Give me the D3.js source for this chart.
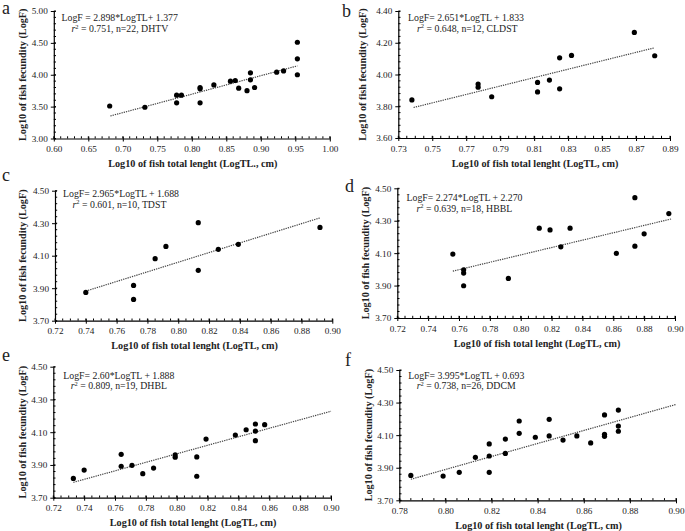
<!DOCTYPE html>
<html><head><meta charset="utf-8">
<script src="https://cdn.jsdelivr.net/npm/d3@7"></script>
<style>
body{margin:0;background:#fff;}
text{font-family:"Liberation Serif","Times New Roman",serif;fill:#222;}
</style></head>
<body>
<svg id="chart" width="685" height="531"></svg>
<script>
// ---------- data ----------
const panelIds = ["a","b","c","d","e","f"];
const aX = [0.681,0.732,0.778,0.778,0.785,0.812,0.812,0.812,0.832,0.856,0.863,0.868,0.880,0.885,0.885,0.891,0.923,0.933,0.953,0.953,0.953];
const aY = [3.51,3.49,3.68,3.56,3.68,3.80,3.78,3.56,3.84,3.90,3.91,3.79,3.75,4.03,3.92,3.80,4.04,4.06,4.51,4.25,4.00];
const bX = [0.738,0.777,0.777,0.785,0.812,0.812,0.819,0.825,0.825,0.832,0.869,0.881];
const bY = [3.84,3.94,3.92,3.86,3.95,3.89,3.965,4.105,3.91,4.12,4.265,4.118];
const cX = [0.740,0.771,0.771,0.785,0.792,0.813,0.813,0.826,0.839,0.892];
const cY = [3.874,3.917,3.831,4.082,4.157,4.303,4.010,4.139,4.170,4.274];
const dX = [0.756,0.763,0.763,0.763,0.792,0.812,0.819,0.826,0.832,0.862,0.874,0.874,0.880,0.896];
const dY = [4.094,3.997,3.977,3.899,3.944,4.254,4.243,4.139,4.254,4.098,4.442,4.143,4.219,4.344];
const eX = [0.733,0.740,0.764,0.764,0.771,0.778,0.785,0.799,0.799,0.813,0.813,0.819,0.838,0.845,0.851,0.851,0.851,0.857];
const eY = [3.818,3.869,3.965,3.892,3.898,3.847,3.881,3.961,3.947,3.949,3.831,4.058,4.083,4.115,4.150,4.107,4.048,4.146];
const fX = [0.785,0.799,0.806,0.813,0.819,0.819,0.819,0.826,0.826,0.832,0.832,0.839,0.845,0.845,0.851,0.857,0.863,0.869,0.869,0.869,0.875,0.875,0.875];
const fY = [3.853,3.849,3.872,3.964,4.046,3.972,3.872,4.076,3.988,4.187,4.111,4.087,4.197,4.095,4.070,4.095,4.052,4.224,4.105,4.093,4.254,4.156,4.124];
const slopes = [2.898,2.651,2.965,2.274,2.60,3.995];
const intercepts = [1.377,1.833,1.688,2.270,1.888,0.693];
const trendFrom = [0.682,0.739,0.740,0.756,0.733,0.785];
const trendTo = [0.953,0.881,0.892,0.898,0.900,0.900];
const eqLabels = ["LogF = 2.898*LogTL+ 1.377","LogF= 2.651*LogTL + 1.833","LogF= 2.965*LogTL + 1.688","LogF= 2.274*LogTL + 2.270","LogF= 2.60*LogTL + 1.888","LogF= 3.995*LogTL + 0.693"];
const statLabels = [" = 0.751, n=22, DHTV"," = 0.648, n=12, CLDST"," = 0.601, n=10, TDST"," = 0.639, n=18, HBBL"," = 0.809, n=19, DHBL"," = 0.738, n=26, DDCM"];
const xTickLabels = [
  ["0.60","0.65","0.70","0.75","0.80","0.85","0.90","0.95","1.00"],
  ["0.73","0.75","0.77","0.79","0.81","0.83","0.85","0.87","0.89"],
  ["0.72","0.74","0.76","0.78","0.80","0.82","0.84","0.86","0.88","0.90"],
  ["0.72","0.74","0.76","0.78","0.80","0.82","0.84","0.86","0.88","0.90"],
  ["0.72","0.74","0.76","0.78","0.80","0.82","0.84","0.86","0.88","0.90"],
  ["0.78","0.80","0.82","0.84","0.86","0.88","0.90"]
];
const yTickLabels = [
  ["3.00","3.50","4.00","4.50","5.00"],
  ["3.60","3.80","4.00","4.20","4.40"],
  ["3.70","3.90","4.10","4.30","4.50"],
  ["3.70","3.90","4.10","4.30","4.50"],
  ["3.70","3.90","4.10","4.30","4.50"],
  ["3.70","3.90","4.10","4.30","4.50"]
];
const xTitles = ["Log10 of fish total lenght (LogTL., cm)","Log10 of fish total lenght (LogTL, cm)","Log10 of fish total lenght (LogTL, cm)","Log10 of fish total lenght (LogTL, cm)","Log10 of fish total lenght (LogTL, cm)","Log10 of fish total lenght (LogTL, cm)"];
const yTitle = "Log10 of fish fecundity (LogF)";
const xsAll = [aX,bX,cX,dX,eX,fX];
const ysAll = [aY,bY,cY,dY,eY,fY];

// ---------- layout (pixels) ----------
const layout = [
  {l:53.8,r:329.8,t:11,b:138.5, lx:2, ly:14, ytx:22.7, xminor:5, yminor:5, eq:[61.5,21], st:[71.5,32]},
  {l:398.3,r:670,t:11,b:138, lx:342, ly:17, ytx:362.7, xminor:4, yminor:5, eq:[408,20.5], st:[417,31.5]},
  {l:55,r:332.3,t:190.7,b:320.7, lx:2, ly:181, ytx:22.7, xminor:4, yminor:5, eq:[63,197], st:[72.5,207.5]},
  {l:397.3,r:675,t:188.3,b:318, lx:345, ly:192, ytx:365, xminor:4, yminor:5, eq:[406.5,200.5], st:[416.5,211.5]},
  {l:53.3,r:331,t:366.7,b:497.7, lx:2, ly:361, ytx:22.7, xminor:4, yminor:5, eq:[63.3,378.5], st:[70.7,389]},
  {l:399.3,r:676,t:370,b:500.3, lx:345, ly:366, ytx:368.3, xminor:4, yminor:5, eq:[408.3,378.5], st:[416.7,389]}
];

const svg = d3.select("#chart");

layout.forEach((L, i) => {
  const xt = xTickLabels[i].map(Number), yt = yTickLabels[i].map(Number);
  const x = d3.scaleLinear().domain([xt[0], xt[xt.length-1]]).range([L.l, L.r]);
  const y = d3.scaleLinear().domain([yt[0], yt[yt.length-1]]).range([L.b, L.t]);
  const g = svg.append("g");

  const xStep = (xt[1]-xt[0])/L.xminor, yStep = (yt[1]-yt[0])/L.yminor;
  const xMinor = d3.range(0, (xt.length-1)*L.xminor+1).map(k => xt[0] + k*xStep);
  const yMinor = d3.range(0, (yt.length-1)*L.yminor+1).map(k => yt[0] + k*yStep);

  const xAxis = d3.axisBottom(x).tickValues(xt).tickFormat((d,j)=>xTickLabels[i][j]).tickSizeInner(3).tickSizeOuter(0).tickPadding(4);
  const yAxis = d3.axisLeft(y).tickValues(yt).tickFormat((d,j)=>yTickLabels[i][j]).tickSizeInner(3).tickSizeOuter(0).tickPadding(3);

  const gx = g.append("g").attr("transform", `translate(0,${L.b})`).call(xAxis);
  const gy = g.append("g").attr("transform", `translate(${L.l},0)`).call(yAxis);
  [gx, gy].forEach(a => {
    a.select(".domain").attr("stroke","#000").attr("stroke-width",1.2);
    a.selectAll(".tick line").attr("stroke","#000").attr("stroke-width",1);
    a.selectAll(".tick text").style("font-size","9.2px").attr("fill","#222").style("font-family","Liberation Serif, serif");
  });
  gx.selectAll(".tick line").attr("y1",-2);
  gy.selectAll(".tick line").attr("x1",2);
  g.append("g").selectAll("line").data(xMinor).join("line")
    .attr("x1", d=>x(d)).attr("x2", d=>x(d)).attr("y1", L.b).attr("y2", L.b-2.2)
    .attr("stroke","#000").attr("stroke-width",1);
  g.append("g").selectAll("line").data(yMinor).join("line")
    .attr("x1", L.l).attr("x2", L.l+2.2).attr("y1", d=>y(d)).attr("y2", d=>y(d))
    .attr("stroke","#000").attr("stroke-width",1);

  g.append("line")
    .attr("x1", x(trendFrom[i])).attr("y1", y(slopes[i]*trendFrom[i]+intercepts[i]))
    .attr("x2", x(trendTo[i])).attr("y2", y(slopes[i]*trendTo[i]+intercepts[i]))
    .attr("stroke","#444").attr("stroke-width",1.2).attr("stroke-dasharray","1.3,1");

  g.append("g").selectAll("circle").data(xsAll[i].map((v,j)=>[v, ysAll[i][j]])).join("circle")
    .attr("cx", d=>x(d[0])).attr("cy", d=>y(d[1])).attr("r", 2.6).attr("fill","#000");

  g.append("text").attr("x", L.eq[0]).attr("y", L.eq[1]).style("font-size","9.8px").text(eqLabels[i]);
  const st = g.append("text").attr("x", L.st[0]).attr("y", L.st[1]).style("font-size","9.8px");
  st.append("tspan").style("font-style","italic").text("r");
  st.append("tspan").attr("dy",-3.5).style("font-size","6.5px").text("2");
  st.append("tspan").attr("dy",3.5).text(statLabels[i]);

  g.append("text").attr("x", (L.l+L.r)/2 + 1).attr("y", L.b + 28.5)
    .attr("text-anchor","middle").style("font-size","10.2px").style("font-weight","bold").text(xTitles[i]);
  g.append("text").attr("transform", `translate(${L.ytx + 3.5},${(L.t+L.b)/2}) rotate(-90)`)
    .attr("text-anchor","middle").style("font-size","10.2px").style("font-weight","bold").text(yTitle);

  g.append("text").attr("x", L.lx).attr("y", L.ly).style("font-size","18px").attr("fill","#111").text(panelIds[i]);
});
</script>
</body></html>
